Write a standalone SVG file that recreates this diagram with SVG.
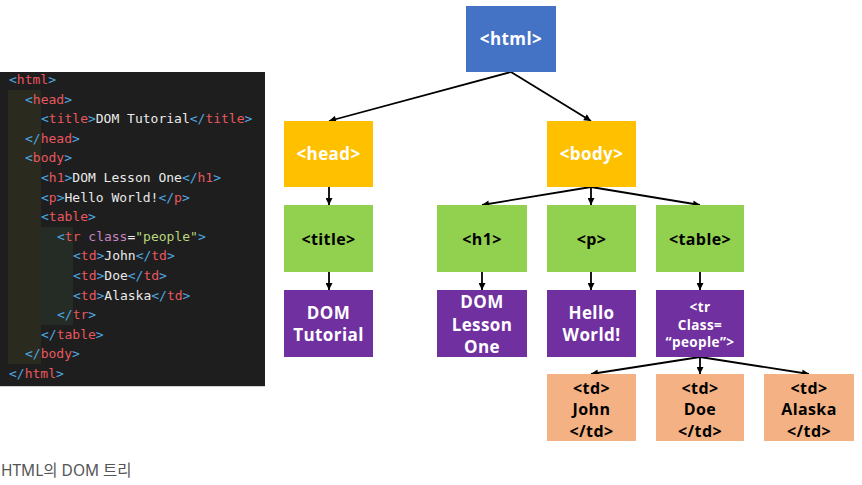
<svg xmlns="http://www.w3.org/2000/svg" width="862" height="485" viewBox="0 0 862 485">
<style>
.code{font-family:"DejaVu Sans Mono","Liberation Mono",monospace;font-size:13px;fill:#EAEAEA}
.b{fill:#4FA8E0}
.t{fill:#E8585E}
.a{fill:#C586C0}
.s{fill:#B8D77A}
.n{font-family:"Open Sans","Noto Sans",sans-serif;font-weight:bold;text-anchor:middle;letter-spacing:0.4px}
.w{fill:#FFFFFF}
.k{fill:#000000}
.conn line{stroke:#000;stroke-width:1.8;marker-end:url(#ah)}
.cap{font-family:"Noto Sans","Noto Sans CJK KR",sans-serif;font-size:15.5px;fill:#555}
</style>
<defs>
<marker id="ah" markerUnits="userSpaceOnUse" viewBox="0 0 10 10" refX="10" refY="5" markerWidth="8" markerHeight="7" orient="auto">
<path d="M0,0 L10,5 L0,10 z" fill="#000"/>
</marker>
</defs>
<rect width="862" height="485" fill="#FFFFFF"/>

<g id="code">
<rect x="0" y="72" width="265" height="314" fill="#1E1E1E"/>
<line x1="0" y1="386.5" x2="265" y2="386.5" stroke="#D0D0D0" stroke-width="1"/>
<rect x="8" y="90" width="33" height="274" fill="#2A2A1E"/>
<rect x="41" y="227" width="32" height="98" fill="#252B25"/>
<text class="code" x="9" y="84"><tspan class="b">&lt;</tspan><tspan class="t">html</tspan><tspan class="b">&gt;</tspan></text>
<text class="code" x="25" y="103.6"><tspan class="b">&lt;</tspan><tspan class="t">head</tspan><tspan class="b">&gt;</tspan></text>
<text class="code" x="41" y="123.2"><tspan class="b">&lt;</tspan><tspan class="t">title</tspan><tspan class="b">&gt;</tspan>DOM Tutorial<tspan class="b">&lt;/</tspan><tspan class="t">title</tspan><tspan class="b">&gt;</tspan></text>
<text class="code" x="25" y="142.8"><tspan class="b">&lt;/</tspan><tspan class="t">head</tspan><tspan class="b">&gt;</tspan></text>
<text class="code" x="25" y="162.4"><tspan class="b">&lt;</tspan><tspan class="t">body</tspan><tspan class="b">&gt;</tspan></text>
<text class="code" x="41" y="182"><tspan class="b">&lt;</tspan><tspan class="t">h1</tspan><tspan class="b">&gt;</tspan>DOM Lesson One<tspan class="b">&lt;/</tspan><tspan class="t">h1</tspan><tspan class="b">&gt;</tspan></text>
<text class="code" x="41" y="201.6"><tspan class="b">&lt;</tspan><tspan class="t">p</tspan><tspan class="b">&gt;</tspan>Hello World!<tspan class="b">&lt;/</tspan><tspan class="t">p</tspan><tspan class="b">&gt;</tspan></text>
<text class="code" x="41" y="221.2"><tspan class="b">&lt;</tspan><tspan class="t">table</tspan><tspan class="b">&gt;</tspan></text>
<text class="code" x="57" y="240.8"><tspan class="b">&lt;</tspan><tspan class="t">tr</tspan> <tspan class="a">class</tspan>=<tspan class="s">"people"</tspan><tspan class="b">&gt;</tspan></text>
<text class="code" x="73" y="260.4"><tspan class="b">&lt;</tspan><tspan class="t">td</tspan><tspan class="b">&gt;</tspan>John<tspan class="b">&lt;/</tspan><tspan class="t">td</tspan><tspan class="b">&gt;</tspan></text>
<text class="code" x="73" y="280"><tspan class="b">&lt;</tspan><tspan class="t">td</tspan><tspan class="b">&gt;</tspan>Doe<tspan class="b">&lt;/</tspan><tspan class="t">td</tspan><tspan class="b">&gt;</tspan></text>
<text class="code" x="73" y="299.6"><tspan class="b">&lt;</tspan><tspan class="t">td</tspan><tspan class="b">&gt;</tspan>Alaska<tspan class="b">&lt;/</tspan><tspan class="t">td</tspan><tspan class="b">&gt;</tspan></text>
<text class="code" x="57" y="319.2"><tspan class="b">&lt;/</tspan><tspan class="t">tr</tspan><tspan class="b">&gt;</tspan></text>
<text class="code" x="41" y="338.8"><tspan class="b">&lt;/</tspan><tspan class="t">table</tspan><tspan class="b">&gt;</tspan></text>
<text class="code" x="25" y="358.4"><tspan class="b">&lt;/</tspan><tspan class="t">body</tspan><tspan class="b">&gt;</tspan></text>
<text class="code" x="9" y="378"><tspan class="b">&lt;/</tspan><tspan class="t">html</tspan><tspan class="b">&gt;</tspan></text>
</g>

<g id="connectors" class="conn">
<line x1="511" y1="72" x2="329" y2="121"/>
<line x1="511" y1="72" x2="591" y2="121"/>
<line x1="329" y1="187" x2="329" y2="205"/>
<line x1="329" y1="272" x2="329" y2="290"/>
<line x1="591" y1="187" x2="482" y2="205"/>
<line x1="591" y1="187" x2="591" y2="205"/>
<line x1="591" y1="187" x2="700" y2="205"/>
<line x1="482" y1="272" x2="482" y2="290"/>
<line x1="591" y1="272" x2="591" y2="290"/>
<line x1="700" y1="272" x2="700" y2="290"/>
<line x1="700" y1="357" x2="591" y2="374"/>
<line x1="700" y1="357" x2="700" y2="374"/>
<line x1="700" y1="357" x2="809" y2="374"/>
</g>

<g id="n-html"><rect x="466" y="6" width="90" height="66" fill="#4472C4"/><text class="n w" x="511" y="45" font-size="17">&lt;html&gt;</text></g>
<g id="n-head"><rect x="284" y="121" width="89" height="66" fill="#FFC000"/><text class="n w" x="328.5" y="160" font-size="17">&lt;head&gt;</text></g>
<g id="n-body"><rect x="547" y="121" width="89" height="66" fill="#FFC000"/><text class="n w" x="591.5" y="160" font-size="17">&lt;body&gt;</text></g>
<g id="n-title"><rect x="284" y="205" width="89" height="67" fill="#92D050"/><text class="n k" x="328.5" y="244.5" font-size="16">&lt;title&gt;</text></g>
<g id="n-h1"><rect x="437" y="205" width="90" height="67" fill="#92D050"/><text class="n k" x="482" y="244.5" font-size="16">&lt;h1&gt;</text></g>
<g id="n-p"><rect x="547" y="205" width="89" height="67" fill="#92D050"/><text class="n k" x="591.5" y="244.5" font-size="16">&lt;p&gt;</text></g>
<g id="n-table"><rect x="656" y="205" width="88" height="67" fill="#92D050"/><text class="n k" x="700" y="244.5" font-size="16">&lt;table&gt;</text></g>
<g id="n-domtutorial"><rect x="284" y="290" width="89" height="67" fill="#7030A0"/><text class="n w" x="328.5" font-size="17"><tspan x="328.5" y="319">DOM</tspan><tspan x="328.5" y="341">Tutorial</tspan></text></g>
<g id="n-domlesson"><rect x="437" y="290" width="90" height="67" fill="#7030A0"/><text class="n w" x="482" font-size="17"><tspan x="482" y="308">DOM</tspan><tspan x="482" y="331">Lesson</tspan><tspan x="482" y="353">One</tspan></text></g>
<g id="n-hello"><rect x="547" y="290" width="89" height="67" fill="#7030A0"/><text class="n w" x="591.5" font-size="17"><tspan x="591.5" y="319">Hello</tspan><tspan x="591.5" y="341">World!</tspan></text></g>
<g id="n-tr"><rect x="656" y="290" width="88" height="67" fill="#7030A0"/><text class="n w" x="700" font-size="13.5"><tspan x="700" y="312">&lt;tr</tspan><tspan x="700" y="329.5">Class=</tspan><tspan x="700" y="347">“people”&gt;</tspan></text></g>
<g id="n-td-john"><rect x="547" y="374" width="89" height="67" fill="#F4B183"/><text class="n k" x="591.5" font-size="16"><tspan x="591.5" y="394">&lt;td&gt;</tspan><tspan x="591.5" y="415">John</tspan><tspan x="591.5" y="437">&lt;/td&gt;</tspan></text></g>
<g id="n-td-doe"><rect x="656" y="374" width="88" height="67" fill="#F4B183"/><text class="n k" x="700" font-size="16"><tspan x="700" y="394">&lt;td&gt;</tspan><tspan x="700" y="415">Doe</tspan><tspan x="700" y="437">&lt;/td&gt;</tspan></text></g>
<g id="n-td-alaska"><rect x="764" y="374" width="90" height="67" fill="#F4B183"/><text class="n k" x="809" font-size="16"><tspan x="809" y="394">&lt;td&gt;</tspan><tspan x="809" y="415">Alaska</tspan><tspan x="809" y="437">&lt;/td&gt;</tspan></text></g>

<text class="cap" x="1" y="476">HTML의 DOM 트리</text>
</svg>
